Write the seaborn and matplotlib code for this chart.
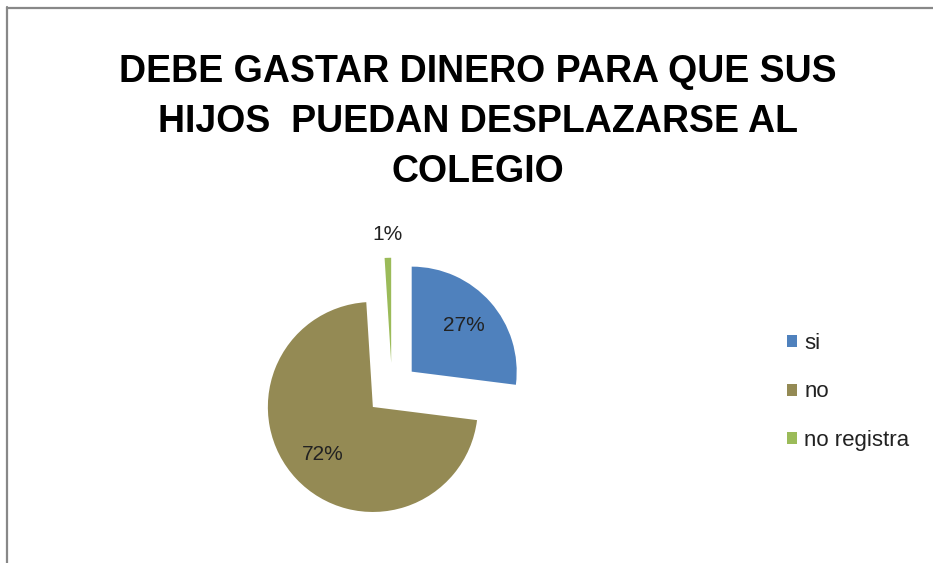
import matplotlib
matplotlib.use("Agg")
import matplotlib.pyplot as plt
from matplotlib.lines import Line2D
import seaborn as sns

categories = ["si", "no", "no registra"]
values = [27, 72, 1]
colors = ["#4F81BD", "#948A54", "#9BBB59"]
title_lines = ["DEBE GASTAR DINERO PARA QUE SUS", "HIJOS  PUEDAN DESPLAZARSE AL", "COLEGIO"]

sns.set_theme(style="white")
plt.rcParams["font.family"] = ["Liberation Sans", "DejaVu Sans"]

W, H = 933, 563
fig = plt.figure(figsize=(W / 100, H / 100), dpi=100)
fig.patch.set_facecolor("white")

# pie axes: center at (392, 389) px, radius 105 px
r_px = 105
lim = 1.6
half = lim * r_px
cx, cy = 392, 389
ax = fig.add_axes([(cx - half) / W, (H - cy - half) / H, 2 * half / W, 2 * half / H])

def fmt(p):
    return f"{p:.0f}%" if p >= 5 else ""

wedges, texts, autotexts = ax.pie(
    values,
    colors=colors,
    startangle=90,
    counterclock=False,
    explode=[0.25] * len(values),
    labels=["" if v >= 5 else f"{v}%" for v in values],
    labeldistance=1.22,
    autopct=fmt,
    pctdistance=0.66,
    radius=1.0,
    textprops=dict(fontsize=15, color="#222222"),
    wedgeprops=dict(linewidth=0),
)
for t in texts:
    t.set_ha("center")
    t.set_va("center")
ax.set_xlim(-lim, lim)
ax.set_ylim(-lim, lim)
ax.set_aspect("equal")
ax.axis("off")

for i, line in enumerate(title_lines):
    fig.text(478 / W, 1 - (72 + 50 * i) / H, line, ha="center", va="center",
             fontsize=27, fontweight="bold", color="black")

fig.legend(wedges, categories, loc="center left",
           bbox_to_anchor=(771 / W, 1 - 392 / H), frameon=False,
           fontsize=16, labelspacing=1.25, handlelength=0.45, handleheight=0.45,
           handletextpad=0.35, borderpad=0.2, labelcolor="#222222")

# chart frame (left and top edges visible)
fig.add_artist(Line2D([6.5 / W, 6.5 / W], [0, 1 - 7 / H], transform=fig.transFigure,
                      color="#888888", linewidth=1.6))
fig.add_artist(Line2D([6.5 / W, 1], [1 - 7.5 / H, 1 - 7.5 / H], transform=fig.transFigure,
                      color="#888888", linewidth=1.6))

fig.savefig("out.png", dpi=100, facecolor="white")
